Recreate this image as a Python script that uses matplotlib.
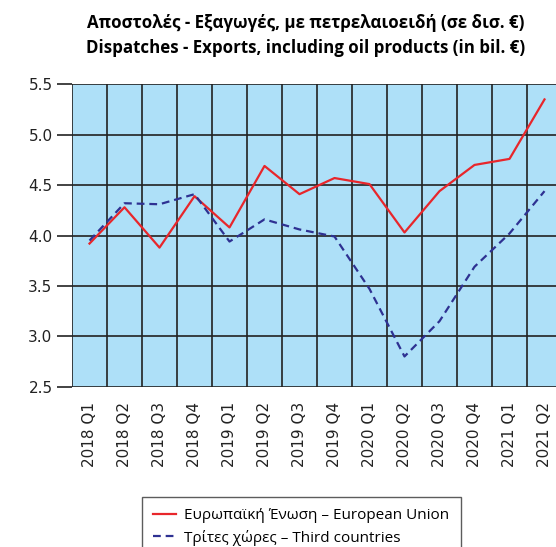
import matplotlib.pyplot as plt

# Quarterly dispatches / exports, including oil products (bil. EUR)
quarters = ["2018 Q1", "2018 Q2", "2018 Q3", "2018 Q4",
            "2019 Q1", "2019 Q2", "2019 Q3", "2019 Q4",
            "2020 Q1", "2020 Q2", "2020 Q3", "2020 Q4",
            "2021 Q1", "2021 Q2"]
eu = [3.92, 4.28, 3.88, 4.39, 4.08, 4.69, 4.41, 4.57,
      4.51, 4.03, 4.44, 4.70, 4.76, 5.35]
third = [3.95, 4.32, 4.31, 4.41, 3.94, 4.16, 4.06, 3.99,
         3.47, 2.80, 3.15, 3.69, 4.02, 4.44]
yticks = [2.5, 3.0, 3.5, 4.0, 4.5, 5.0, 5.5]

fig = plt.figure(figsize=(5.56, 5.47), dpi=100)
ax = fig.add_axes([72 / 556, 160.3 / 547, 490 / 556, 302.4 / 547])
ax.set_facecolor("#AEE0F8")

x = list(range(len(quarters)))
l1, = ax.plot(x, eu, color="#E8262B", lw=1.6)
l2, = ax.plot(x, third, color="#2E3192", lw=1.6, ls=(0, (3.5, 2.2)))

ax.set_xlim(-0.5, len(quarters) - 0.5)
ax.set_ylim(2.5, 5.5)
ax.set_yticks(yticks)
ax.set_yticklabels([f"{v:.1f}" for v in yticks], fontsize=11, family="DejaVu Sans", color="#222222")
ax.set_xticks(x)
ax.set_xticklabels(quarters, rotation=90, fontsize=11, family="DejaVu Sans", color="#222222")
ax.tick_params(axis="x", length=0, pad=11)
ax.tick_params(axis="y", length=11, width=1.2, color="#222222", pad=3)

# cell grid: horizontal at every tick, vertical between quarters
for v in yticks:
    ax.axhline(v, color="#222222", lw=1.2, zorder=1)
for b in range(len(quarters) + 1):
    ax.axvline(b - 0.5, color="#222222", lw=1.2, zorder=1)
for s in ax.spines.values():
    s.set_visible(False)

fig.text(0.549, 0.958, "Αποστολές - Εξαγωγές, με πετρελαιοειδή (σε δισ. €)",
         ha="center", va="center", fontsize=12.2, fontweight="bold", family="Open Sans")
fig.text(0.549, 0.913, "Dispatches - Exports, including oil products (in bil. €)",
         ha="center", va="center", fontsize=12.2, fontweight="bold", family="Open Sans")

leg = fig.legend([l1, l2], ["Ευρωπαϊκή Ένωση – European Union", "Τρίτες χώρες – Third countries"],
                 loc="upper left", bbox_to_anchor=(142 / 556, 1 - 497 / 547),
                 frameon=True, fancybox=False, handlelength=1.5, handletextpad=0.5,
                 borderpad=0.75, labelspacing=0.4,
                 prop={"family": "Open Sans", "size": 11}, borderaxespad=0)
leg.get_frame().set_edgecolor("#333333")
leg.get_frame().set_linewidth(1.0)

fig.savefig("out.png", dpi=100)
